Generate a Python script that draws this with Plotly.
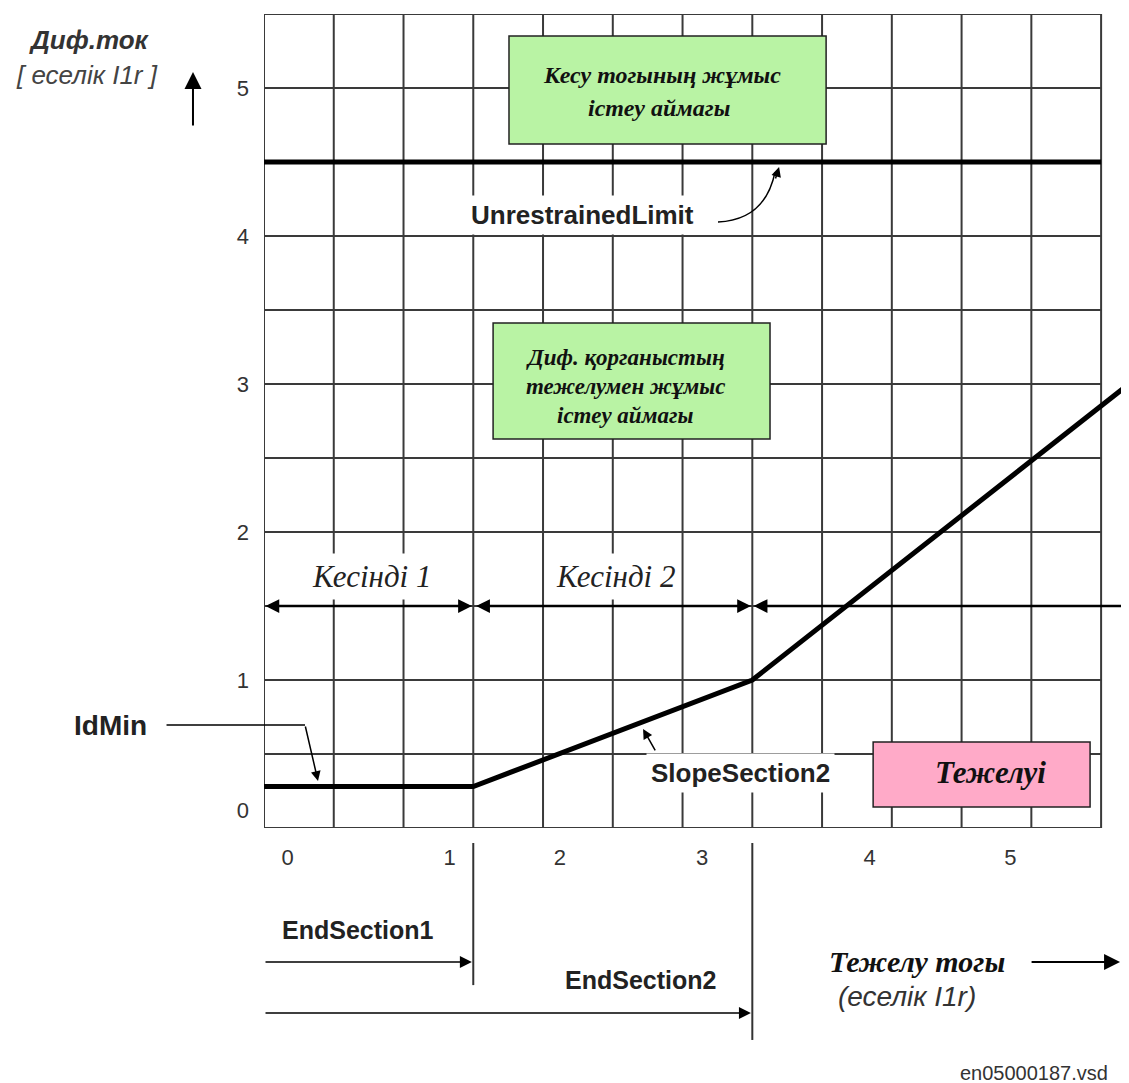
import numpy as np
import plotly.graph_objects as go

# ---------------- data ----------------
CHAR_X = [0.0, 1.5, 3.5, 6.2]          # operate characteristic (restrain current)
CHAR_Y = [0.28, 0.28, 1.0, 3.0]        # differential current
UNRESTRAINED_LIMIT = 4.5
LIMIT_X = [0.0, 6.0]
END_SECTION1 = 1.5
END_SECTION2 = 3.5
SECTION_ARROW_Y = 1.5

X_TICK_POS = [0.17, 1.33, 2.12, 3.14, 4.34, 5.35]
X_TICK_TEXT = ["0", "1", "2", "3", "4", "5"]
Y_TICK_POS = [0.12, 1, 2, 3, 4, 5]
Y_TICK_TEXT = ["0", "1", "2", "3", "4", "5"]

GRID_X = list(np.arange(0, 6.01, 0.5))
GRID_Y = list(np.arange(0, 5.51, 0.5))

SANS = "Liberation Sans"
SERIF = "Liberation Serif"
GRID_COLOR = "#3a3a3a"

fig = go.Figure()

# characteristic and unrestrained limit
fig.add_trace(go.Scatter(x=CHAR_X, y=CHAR_Y, mode="lines",
                         line=dict(color="black", width=5), hoverinfo="skip"))
fig.add_trace(go.Scatter(x=LIMIT_X, y=[UNRESTRAINED_LIMIT] * 2, mode="lines",
                         line=dict(color="black", width=5), hoverinfo="skip"))

shapes = []
for gx in GRID_X:
    shapes.append(dict(type="line", xref="x", yref="y", x0=gx, x1=gx, y0=0, y1=5.5,
                       line=dict(color=GRID_COLOR, width=2), layer="below"))
for gy in GRID_Y:
    shapes.append(dict(type="line", xref="x", yref="y", x0=0, x1=6, y0=gy, y1=gy,
                       line=dict(color=GRID_COLOR, width=2), layer="below"))

# zone boxes
shapes.append(dict(type="rect", xref="x", yref="y", x0=1.756, x1=4.029, y0=4.622, y1=5.351,
                   fillcolor="#B9F3A4", line=dict(color="#222", width=1.5), layer="above"))
shapes.append(dict(type="rect", xref="x", yref="y", x0=1.642, x1=3.627, y0=2.628, y1=3.412,
                   fillcolor="#B9F3A4", line=dict(color="#222", width=1.5), layer="above"))
shapes.append(dict(type="rect", xref="x", yref="y", x0=4.366, x1=5.921, y0=0.142, y1=0.581,
                   fillcolor="#FFAAC8", line=dict(color="#222", width=1.5), layer="above"))

# curved pointer to the unrestrained limit
shapes.append(dict(type="path", xref="x", yref="y",
                   path="M 3.254,4.095 Q 3.591,4.108 3.663,4.432",
                   line=dict(color="black", width=1.5), layer="above"))

# vertical marker lines under the axis for the section ends
shapes.append(dict(type="line", xref="x", yref="paper", x0=END_SECTION1, x1=END_SECTION1,
                   y0=-0.0184, y1=-0.193, line=dict(color="#333", width=2)))
shapes.append(dict(type="line", xref="x", yref="paper", x0=END_SECTION2, x1=END_SECTION2,
                   y0=-0.0184, y1=-0.2604, line=dict(color="#333", width=2)))

ann = []


def text(t, x, y, size, family=SANS, color="#111", bg=None, xanchor="center", pad=1,
         xref="x", yref="y"):
    d = dict(text=t, x=x, y=y, xref=xref, yref=yref, showarrow=False,
             font=dict(family=family, size=size, color=color), xanchor=xanchor,
             yanchor="middle", borderpad=pad)
    if bg:
        d["bgcolor"] = bg
    ann.append(d)


def arrow(x, y, ax, ay, width=2, size=1.4, head=2, side="end", color="black",
          xref="x", yref="y", axref="x", ayref="y"):
    ann.append(dict(text="", x=x, y=y, ax=ax, ay=ay, xref=xref, yref=yref,
                    axref=axref, ayref=ayref, showarrow=True, arrowhead=head,
                    startarrowhead=head, arrowside=side, arrowwidth=width,
                    arrowsize=size, startarrowsize=size, arrowcolor=color,
                    standoff=0, startstandoff=0))


# axis title (top-left)
text("<b><i>Диф.ток</i></b>", -0.2012, 0.968, 26, color="#333", xref="paper", yref="paper")
text("<i>[ еселік I1r ]</i>", -0.2046, 0.925, 26, color="#444", xref="paper", yref="paper")
arrow(-0.0821, 0.9287, 0, 55, width=2, size=1.7, xref="paper", yref="paper",
      axref="pixel", ayref="pixel")

# box 1 text
text("<b><i>Кесу тогының жұмыс</i></b>", 2.853, 5.088, 24, family=SERIF)
text("<b><i>істеу аймагы</i></b>", 2.83, 4.865, 24, family=SERIF)

# unrestrained limit label
text("<b>UnrestrainedLimit</b>", 2.28, 4.142, 26, color="#222", bg="white", pad=4)
arrow(3.692, 4.466, 3.663, 4.378, width=1.5, size=1.3)

# box 2 text
text("<b><i>Диф. қорганыстың</i></b>", 2.59, 3.176, 23, family=SERIF)
text("<b><i>тежелумен жұмыс</i></b>", 2.59, 2.980, 23, family=SERIF)
text("<b><i>істеу аймагы</i></b>", 2.59, 2.784, 23, family=SERIF)

# sections
text("<i>Кесінді 1</i>", 0.774, 1.696, 31, family=SERIF, color="#222", bg="white", pad=5)
text("<i>Кесінді 2</i>", 2.516, 1.696, 31, family=SERIF, color="#222", bg="white", pad=5)
arrow(END_SECTION1 - 0.01, SECTION_ARROW_Y, 0.0, SECTION_ARROW_Y, width=2.5, size=1.1, side="end+start")
arrow(END_SECTION2 - 0.01, SECTION_ARROW_Y, END_SECTION1 + 0.01, SECTION_ARROW_Y, width=2.5, size=1.1, side="end+start")
arrow(END_SECTION2 + 0.01, SECTION_ARROW_Y, 6.4, SECTION_ARROW_Y, width=2.5, size=1.1)

# IdMin label and pointer
text("<b>IdMin</b>", -0.1780, 0.1265, 28, color="#222", xref="paper", yref="paper")
arrow(0.294, 0.696, -140, 0, width=1.5, head=0, axref="pixel", ayref="pixel")
arrow(0.387, 0.318, 0.294, 0.696, width=1.5, size=1.3)

# slope section 2
text("<b>SlopeSection2</b>", 3.412, 0.372, 26, color="#222", bg="white", pad=4)
arrow(2.717, 0.669, 2.810, 0.514, width=1.5, size=1.3)

# restrain zone
text("<b><i>Тежелуі</i></b>", 5.204, 0.372, 31, family=SERIF)

# below the axis
text("<b>EndSection1</b>", 0.674, -0.1253, 25, color="#222", yref="paper")
arrow(END_SECTION1 - 0.01, -0.1646, 0.0, 0, width=1.5, size=1.6, yref="paper", ayref="pixel")
text("<b>EndSection2</b>", 2.702, -0.1867, 25, color="#222", yref="paper")
arrow(END_SECTION2 - 0.01, -0.2273, 0.0, 0, width=1.5, size=1.6, yref="paper", ayref="pixel")

text("<b><i>Тежелу тогы</i></b>", 4.681, -0.1646, 30, family=SERIF, yref="paper")
arrow(6.136, -0.1646, 5.491, 0, width=2, size=1.6, yref="paper", ayref="pixel")
text("<i>(еселік I1r)</i>", 4.609, -0.2076, 28, color="#333", yref="paper")
text("en05000187.vsd", 6.065, -0.301, 20, color="#333", xanchor="right", yref="paper")

fig.update_layout(
    width=1121, height=1075,
    margin=dict(l=256, r=0, t=6, b=255),
    plot_bgcolor="white", paper_bgcolor="white",
    showlegend=False,
    shapes=shapes, annotations=ann,
    xaxis=dict(range=[0, 6.2], showgrid=False, zeroline=False, showline=False,
               tickmode="array", tickvals=X_TICK_POS, ticktext=X_TICK_TEXT, ticks="",
               tickfont=dict(family=SANS, size=22, color="#333"), ticklabelstandoff=14,
               fixedrange=True),
    yaxis=dict(range=[0, 5.5], showgrid=False, zeroline=False, showline=False,
               tickmode="array", tickvals=Y_TICK_POS, ticktext=Y_TICK_TEXT, ticks="",
               tickfont=dict(family=SANS, size=22, color="#333"), ticklabelstandoff=14,
               fixedrange=True),
)

fig.write_html("out.html", config={"displayModeBar": False})
